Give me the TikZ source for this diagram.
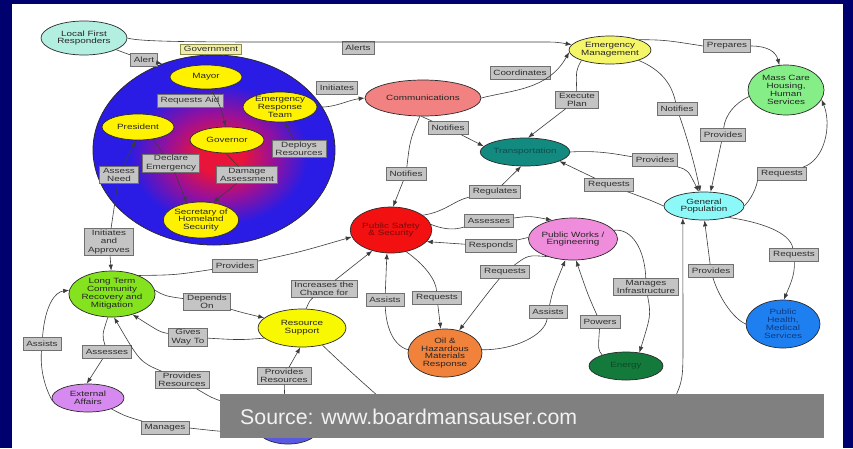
\documentclass[tikz,border=0pt]{standalone}
\usepackage{fontspec}
\usetikzlibrary{shapes.geometric,arrows.meta}
\newfontfamily\lblf[FakeStretch=1.3]{Liberation Sans}
\newfontfamily\srcf{Liberation Sans}

\definecolor{navyC}{RGB}{0,0,110}
\definecolor{lineC}{HTML}{3C3C3C}
\definecolor{edgeC}{HTML}{2A2A2A}
\definecolor{lblFill}{HTML}{C4C4C4}
\definecolor{lblBorder}{HTML}{707070}
\definecolor{lblText}{HTML}{303030}
\definecolor{govFill}{HTML}{F0EEA8}
\definecolor{govBorder}{HTML}{8B8B4A}
\definecolor{govred}{HTML}{E8143A}
\definecolor{govmid}{HTML}{9A1098}
\definecolor{govblue}{HTML}{2A1CE4}
\definecolor{bannerC}{HTML}{808080}

\pgfdeclareradialshading{govshade}{\pgfpoint{1.5bp}{-2bp}}{%
  color(0bp)=(govred); color(4.5bp)=(govred); color(11bp)=(govmid);
  color(18.5bp)=(govblue); color(50bp)=(govblue)}

\tikzset{
  ell/.style={ellipse, draw=edgeC, line width=0.7pt, inner sep=0pt, align=center,
    text=black!85, font=\lblf\fontsize{7.6}{7.9}\selectfont},
  yel/.style={ell, fill=yellow},
  lbl/.style={rectangle, draw=lblBorder, fill=lblFill, line width=0.6pt,
    inner xsep=3.5pt, inner ysep=1.6pt, minimum height=13pt, align=center,
    text=lblText, font=\lblf\fontsize{7.6}{8.1}\selectfont},
  ln/.style={draw=lineC, line width=0.6pt},
  arr/.style={ln, -{Latex[length=6pt,width=4.5pt]}},
}

\begin{document}
\begin{tikzpicture}[x=1pt,y=-1pt]
\useasboundingbox (0,0) rectangle (853,448);
% frame and white sheet
\fill[navyC] (0,0) rectangle (853,448);
\fill[white] (12,4) rectangle (843,448);

% government sphere and its members
\node[ellipse, minimum width=242pt, minimum height=190pt, shading=govshade,
      draw=edgeC, line width=0.8pt] (gov) at (214,150) {};
\node[yel, minimum width=72pt, minimum height=24pt] (mayor) at (206,77) {Mayor};
\node[yel, minimum width=74pt, minimum height=30pt] (ert) at (280,107) {Emergency\\Response\\Team};
\node[yel, minimum width=72pt, minimum height=26pt] (pres) at (138,127) {President};
\node[yel, minimum width=74pt, minimum height=26pt] (gvn) at (227,140) {Governor};
\node[yel, minimum width=74pt, minimum height=36pt] (sec) at (201,220) {Secretary of\\Homeland\\Security};

% agencies
\node[ell, fill={rgb,255:red,178;green,239;blue,224}, minimum width=86pt, minimum height=34pt] (lfr) at (84,38) {Local First\\Responders};
\node[ell, fill={rgb,255:red,242;green,130;blue,130}, minimum width=116pt, minimum height=36pt] (comm) at (423,98) {Communications};
\node[ell, fill={rgb,255:red,245;green,245;blue,106}, minimum width=82pt, minimum height=28pt] (em) at (610,50) {Emergency\\Management};
\node[ell, fill={rgb,255:red,134;green,238;blue,134}, minimum width=76pt, minimum height=50pt] (mass) at (786,90) {Mass Care\\Housing,\\Human\\Services};
\node[ell, fill={rgb,255:red,18;green,138;blue,128}, text={rgb,255:red,13;green,79;blue,74}, minimum width=86pt, minimum height=28pt] (trans) at (525,152) {Transportation};
\node[ell, fill={rgb,255:red,140;green,248;blue,248}, minimum width=80pt, minimum height=28pt] (gp) at (704,206) {General\\Population};
\node[ell, fill={rgb,255:red,242;green,16;blue,16}, text={rgb,255:red,122;green,10;blue,10}, minimum width=80pt, minimum height=46pt] (ps) at (391,230) {Public Safety\\\& Security};
\node[ell, fill={rgb,255:red,240;green,140;blue,220}, minimum width=86pt, minimum height=42pt] (pw) at (573,239) {Public Works /\\Engineering};
\node[ell, fill={rgb,255:red,132;green,226;blue,30}, minimum width=84pt, minimum height=46pt] (lt) at (112,294) {Long Term\\Community\\Recovery and\\Mitigation};
\node[ell, fill={rgb,255:red,248;green,248;blue,0}, minimum width=88pt, minimum height=38pt] (rs) at (302,328) {Resource\\Support};
\node[ell, fill={rgb,255:red,240;green,130;blue,60}, minimum width=74pt, minimum height=48pt] (oil) at (445,353) {Oil \&\\Hazardous\\Materials\\Response};
\node[ell, fill={rgb,255:red,30;green,127;blue,240}, text={rgb,255:red,16;green,58;blue,128}, minimum width=74pt, minimum height=48pt] (ph) at (783,324) {Public\\Health,\\Medical\\Services};
\node[ell, fill={rgb,255:red,19;green,122;blue,60}, text={rgb,255:red,12;green,74;blue,34}, minimum width=74pt, minimum height=28pt] (energy) at (626,366) {Energy};
\node[ell, fill={rgb,255:red,214;green,138;blue,240}, minimum width=72pt, minimum height=28pt] (ext) at (88,398) {External\\Affairs};
\node[ell, fill={rgb,255:red,90;green,90;blue,224}, minimum width=62pt, minimum height=32pt] (hid) at (288,428) {};

% relation labels
\node[lbl, fill=govFill, draw=govBorder, minimum height=10pt, inner ysep=0.8pt] (lGov) at (211,49) {Government};
\node[lbl] (lAlert) at (144,60) {Alert};
\node[lbl] (lAlerts) at (358,48) {Alerts};
\node[lbl] (lInit) at (337,88) {Initiates};
\node[lbl] (lReqAid) at (190,101) {Requests Aid};
\node[lbl] (lDeploy) at (299,149) {Deploys\\Resources};
\node[lbl] (lDecl) at (171,163) {Declare\\Emergency};
\node[lbl] (lDam) at (247,175) {Damage\\Assessment};
\node[lbl] (lAssess) at (119,175) {Assess\\Need};
\node[lbl] (lInitAppr) at (109,242) {Initiates\\and\\Approves};
\node[lbl] (lCoord) at (520,73) {Coordinates};
\node[lbl] (lExec) at (577,100) {Execute\\Plan};
\node[lbl] (lNotEM) at (677,109) {Notifies};
\node[lbl] (lPrep) at (727,46) {Prepares};
\node[lbl] (lProvMC) at (723,135) {Provides};
\node[lbl] (lNotTr) at (448,128) {Notifies};
\node[lbl] (lNotPS) at (406,174) {Notifies};
\node[lbl] (lReg) at (495,192) {Regulates};
\node[lbl] (lAssPW) at (489,221) {Assesses};
\node[lbl] (lResp) at (491,246) {Responds};
\node[lbl] (lReqOil) at (505,272) {Requests};
\node[lbl] (lProvTr) at (655,160) {Provides};
\node[lbl] (lReqTr) at (609,185) {Requests};
\node[lbl] (lReqMC) at (782,174) {Requests};
\node[lbl] (lReqPH) at (794,255) {Requests};
\node[lbl] (lProvPH) at (711,271) {Provides};
\node[lbl] (lManInf) at (646,287) {Manages\\Infrastructure};
\node[lbl] (lPow) at (600,322) {Powers};
\node[lbl] (lAstPW) at (548,312) {Assists};
\node[lbl] (lAstPS) at (385,300) {Assists};
\node[lbl] (lReqPS) at (437,298) {Requests};
\node[lbl] (lInc) at (324,289) {Increases the\\Chance for};
\node[lbl] (lProvLT) at (235,266) {Provides};
\node[lbl] (lDep) at (207,302) {Depends\\On};
\node[lbl] (lGive) at (188,337) {Gives\\Way To};
\node[lbl] (lAstLT) at (42,344) {Assists};
\node[lbl] (lAssExt) at (107,352) {Assesses};
\node[lbl] (lProvR1) at (182,380) {Provides\\Resources};
\node[lbl] (lProvR2) at (284,376) {Provides\\Resources};
\node[lbl] (lMng) at (165,428) {Manages};

% loose ends running under the caption
\coordinate (hidGP) at (673,402);
\coordinate (hidLT) at (224,402);
\coordinate (hidRS) at (385,402);

% connectors
\draw[arr] (lfr.east) .. controls (140,42) and (200,42) .. (300,42) -- (540,42) .. controls (556,42) .. (em.172);
\draw[ln] (lfr.-20) -- (lAlert);
\draw[arr] (lAlert) -- (gov.121);
\draw[arr] (ert.east) .. controls (335,108) and (348,100) .. (comm.west);
\draw[arr] (comm.east) .. controls (512,90) and (548,90) .. (em.183);
\draw[ln] (em.200) .. controls (576,70) .. (lExec);
\draw[arr] (lExec) -- (trans.78);
\draw[ln] (em.-20) .. controls (662,70) and (672,85) .. (lNotEM);
\draw[arr] (lNotEM) .. controls (688,140) and (696,170) .. (gp.105);
\draw[ln] (em.20) .. controls (665,40) .. (lPrep.west);
\draw[arr] (lPrep.east) .. controls (768,46) and (776,52) .. (mass.105);
\draw[ln] (mass.190) .. controls (735,103) and (725,115) .. (lProvMC);
\draw[arr] (lProvMC) -- (gp.65);
\draw[ln] (trans.east) .. controls (600,150) and (620,155) .. (lProvTr);
\draw[arr] (lProvTr) .. controls (688,170) .. (gp.110);
\draw[ln] (gp.west) .. controls (650,200) .. (lReqTr);
\draw[arr] (lReqTr) -- (trans.-15);
\draw[ln] (gp.east) .. controls (755,195) and (758,180) .. (lReqMC);
\draw[arr] (lReqMC) .. controls (825,160) and (832,125) .. (mass.-15);
\draw[ln] (gp.-25) .. controls (760,222) and (790,232) .. (lReqPH);
\draw[arr] (lReqPH) .. controls (795,275) and (790,285) .. (ph.88);
\draw[ln] (ph.west) .. controls (732,318) and (718,295) .. (lProvPH);
\draw[arr] (lProvPH) -- (gp.-88);
\draw[arr] (hidGP) .. controls (683,380) .. (683,340) -- (gp.-150);
\draw[ln] (ps.25) .. controls (445,212) and (455,200) .. (lReg);
\draw[arr] (lReg) -- (trans.-105);
\draw[ln] (comm.-95) .. controls (425,118) .. (lNotTr);
\draw[arr] (lNotTr) -- (trans.172);
\draw[ln] (comm.-100) .. controls (410,140) .. (lNotPS);
\draw[arr] (lNotPS) -- (ps.85);
\draw[ln] (ps.8) .. controls (450,232) and (460,228) .. (lAssPW);
\draw[arr] (lAssPW) .. controls (530,216) .. (pw.138);
\draw[ln] (pw.178) -- (lResp);
\draw[arr] (lResp) -- (ps.-18);
\draw[ln] (pw.-145) .. controls (528,255) .. (lReqOil);
\draw[arr] (lReqOil) .. controls (490,290) .. (oil.58);
\draw[ln] (ps.-55) .. controls (425,265) and (436,280) .. (lReqPS);
\draw[arr] (lReqPS) -- (oil.100);
\draw[ln] (oil.175) .. controls (392,345) and (386,325) .. (lAstPS);
\draw[arr] (lAstPS) -- (ps.-100);
\draw[ln] (oil.5) .. controls (515,350) and (545,335) .. (lAstPW);
\draw[arr] (lAstPW) .. controls (553,290) .. (pw.-110);
\draw[ln] (energy.155) .. controls (598,350) .. (lPow);
\draw[arr] (lPow) .. controls (588,295) .. (pw.-82);
\draw[ln] (pw.12) .. controls (632,228) and (645,250) .. (lManInf);
\draw[arr] (lManInf) .. controls (651,315) .. (energy.45);
\draw[ln] (lt.35) .. controls (175,275) .. (lProvLT);
\draw[arr] (lProvLT) .. controls (300,252) .. (ps.190);
\draw[ln] (rs.78) .. controls (310,300) .. (lInc);
\draw[arr] (lInc) -- (ps.228);
\draw[ln] (lt.5) .. controls (165,296) .. (lDep);
\draw[arr] (lDep) .. controls (240,312) .. (rs.165);
\draw[ln] (rs.195) .. controls (240,340) .. (lGive);
\draw[arr] (lGive) .. controls (160,332) .. (lt.-45);
\draw[ln] (lt.-100) .. controls (102,335) .. (lAssExt);
\draw[arr] (lAssExt) -- (ext.95);
\draw[ln] (ext.185) .. controls (45,388) and (40,370) .. (lAstLT);
\draw[arr] (lAstLT) .. controls (45,305) and (55,292) .. (lt.175);
\draw[ln] (hidLT) .. controls (212,398) .. (lProvR1);
\draw[arr] (lProvR1) .. controls (140,362) .. (lt.-85);
\draw[ln] (hid.100) -- (lProvR2);
\draw[arr] (lProvR2) -- (rs.-95);
\draw[ln] (ext.-25) .. controls (125,416) .. (lMng);
\draw[arr] (lMng.east) .. controls (235,433) .. (hid.west);
\draw[ln] (rs.-40) .. controls (340,362) and (365,385) .. (hidRS);

% inside the government sphere
\draw[arr] (mayor.-70) .. controls (220,105) .. (gvn.95);
\draw[arr] (lDeploy) -- (ert.-75);
\draw[arr] (lAssess) -- (pres.-100);
\draw[ln] (lAssess) -- (lInitAppr);
\draw[arr] (lInitAppr) -- (lt.92);
\draw[ln] (pres.-40) -- (lDecl);
\draw[arr] (lDecl) -- (sec.130);
\draw[ln] (gvn.-95) -- (lDam);
\draw[arr] (lDam) -- (sec.55);

% caption
\node[fill=bannerC, minimum width=604pt, minimum height=44pt, inner sep=0pt, anchor=north west] (banner) at (220,394) {};
\node[anchor=base west, inner sep=0pt, text={rgb,255:red,242;green,242;blue,242}, font=\srcf\fontsize{21.3}{24}\selectfont] (src) at (240,424) {Source: www.boardmansauser.com};
\end{tikzpicture}
\end{document}
